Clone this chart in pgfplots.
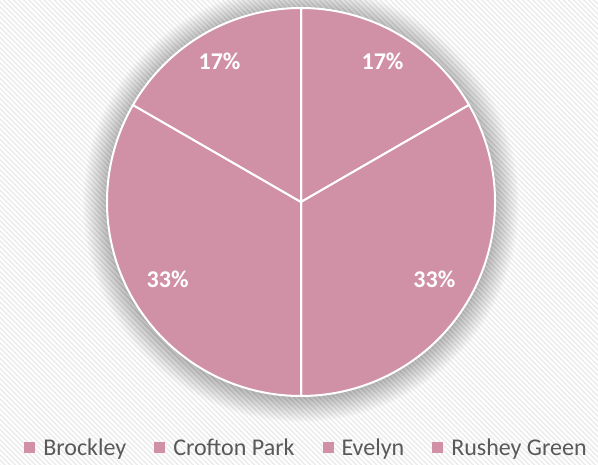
\documentclass[border=0pt]{standalone}
\usepackage{fontspec}
\setmainfont{Carlito}
\usepackage{pgfplots}
\pgfplotsset{compat=1.18}
\usepackage{pgfplotstable}
\usetikzlibrary{calc,patterns.meta}
\definecolor{pie}{HTML}{D090A6}
\definecolor{legtext}{HTML}{595959}
\definecolor{hatch}{HTML}{EBEBEB}
\tikzset{
  slice/.style={fill=pie,draw=white,line width=2pt,line join=round},
  lab/.style={font=\bfseries\fontsize{24}{28}\selectfont,text=white},
}

% ward, count, shown percent, label radius
\pgfplotstableread{
ward value pct lr
Brockley 1 17 163
Crofton 2 33 154
Evelyn 2 33 154
Rushey 1 17 163
}\piedata

% build the slices and labels before the axis
\gdef\slices{}
\gdef\labels{}
\gdef\startang{90}
\def\total{6}
\pgfplotstablegetrowsof{\piedata}
\pgfmathtruncatemacro\lastrow{\pgfplotsretval-1}
\pgfplotsforeachungrouped \i in {0,...,\lastrow}{%
  \pgfplotstablegetelem{\i}{value}\of\piedata \let\v\pgfplotsretval
  \pgfplotstablegetelem{\i}{pct}\of\piedata \let\lab\pgfplotsretval
  \pgfplotstablegetelem{\i}{lr}\of\piedata \let\lr\pgfplotsretval
  \pgfmathsetmacro\endang{\startang-360*\v/\total}
  \pgfmathsetmacro\midang{(\startang+\endang)/2}
  \xdef\slices{\unexpanded\expandafter{\slices}\noexpand\path[slice] (axis cs:0,0) -- ++(\startang:194pt) arc[start angle=\startang, end angle=\endang, radius=194pt] -- cycle;}
  \xdef\labels{\unexpanded\expandafter{\labels}\noexpand\node[lab] at ($(axis cs:0,0)+(\midang:\lr pt)$) {\lab\noexpand\%};}
  \global\let\startang\endang
}

% soft shadow round the pie
\gdef\shadow{}
\pgfplotsforeachungrouped \k in {1,...,22}{%
  \pgfmathsetmacro\rr{194+1.1*\k}
  \xdef\shadow{\unexpanded\expandafter{\shadow}\noexpand\fill[black,opacity=0.011] (axis cs:0,-2) circle[radius=\rr pt];}
}

\begin{document}
\begin{tikzpicture}
\begin{axis}[
  x=1pt, y=1pt,
  xmin=-301, xmax=297, ymin=-263, ymax=202,
  hide axis, clip=false,
  legend columns=4,
  legend style={draw=none, fill=none, font=\fontsize{24}{28}\selectfont, text=legtext,
    at={(axis cs:5.5,-246)}, anchor=center,
    /tikz/every even column/.append style={column sep=26pt}},
  legend image code/.code={\fill[pie,draw=none] (0pt,-5pt) rectangle (11pt,6pt); \path[draw=none,fill=none] (0pt,0pt) rectangle (17pt,0.1pt);},
]
\coordinate (bl) at (axis cs:-301,-263);
\coordinate (tr) at (axis cs:297,202);
\fill[white] (axis cs:-301,-263) rectangle (axis cs:297,202);
\fill[pattern={Lines[angle=-45,distance=3.6pt,line width=1.4pt]}, pattern color=hatch]
  (axis cs:-301,-263) rectangle (axis cs:297,202);
\shadow
\slices
\labels
\addlegendimage{pie}
\addlegendimage{pie}
\addlegendimage{pie}
\addlegendimage{pie}
\legend{Brockley, Crofton Park, Evelyn, Rushey Green}
\end{axis}
\pgfresetboundingbox
\useasboundingbox (bl) rectangle (tr);
\end{tikzpicture}
\end{document}
